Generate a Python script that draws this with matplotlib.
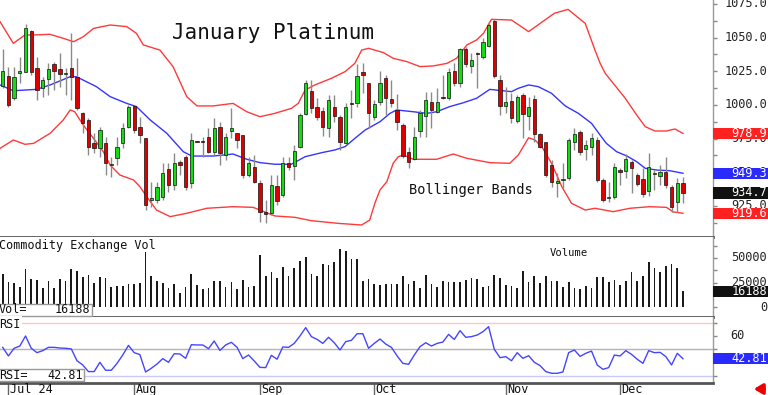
import numpy as np
import matplotlib
matplotlib.use("Agg")
import matplotlib.pyplot as plt
from matplotlib.patches import Rectangle
from matplotlib.transforms import blended_transform_factory, ScaledTranslation

# ---------------- data ----------------
opens = [1014.1, 1021.5, 1005.4, 1023.5, 1024.8, 1055.0, 1027.2, 1012.4, 1019.1, 1030.4,
         1026.7, 1023.0, 1027.2, 1021.0, 993.8, 988.9, 971.5, 967.8, 971.5, 955.4,
         960.4, 971.5, 983.9, 999.3, 983.9, 975.2, 929.4, 929.4, 931.9, 952.2,
         940.6, 957.9, 961.6, 941.8, 973.2, 972.8, 976.5, 965.3, 983.9, 962.9,
         980.7, 979.0, 977.7, 948.0, 954.2, 941.8, 920.8, 919.6, 939.9, 933.2,
         956.7, 955.0, 969.1, 993.1, 1010.4, 998.3, 995.8, 982.7, 998.3, 991.3,
         971.5, 1001.2, 1001.2, 1024.8, 1016.1, 991.3, 1002.5, 1019.8, 1004.5, 996.3,
         985.1, 965.3, 959.7, 980.9, 992.1, 1002.5, 995.0, 1005.7, 1005.0, 1025.5,
         1016.1, 1041.3, 1029.0, 1038.1, 1035.4, 1043.8, 1062.6, 1018.6, 999.3, 1003.0,
         988.4, 1007.4, 992.1, 1004.5, 978.2, 972.3, 955.4, 941.8, 944.1, 945.5,
         972.8, 979.7, 967.1, 969.1, 974.0, 944.3, 930.7, 931.9, 951.7, 951.2,
         957.9, 948.0, 945.0, 936.4, 949.0, 947.5, 950.0, 939.4, 927.7, 941.8]
highs = [1041.3, 1028.5, 1028.5, 1035.9, 1059.9, 1055.5, 1035.9, 1021.0, 1030.9, 1032.2,
         1038.4, 1027.2, 1053.7, 1034.7, 995.0, 990.1, 979.0, 983.9, 976.5, 961.6,
         976.5, 986.4, 1000.0, 999.3, 991.3, 975.2, 943.1, 943.1, 956.7, 956.7,
         964.1, 959.2, 962.9, 979.0, 973.6, 976.5, 982.7, 990.1, 987.6, 979.0,
         997.5, 979.5, 977.7, 961.6, 962.9, 944.3, 929.4, 948.0, 948.0, 961.6,
         961.6, 970.3, 993.8, 1018.6, 1018.6, 1005.0, 998.8, 1007.4, 1007.4, 992.6,
         1001.2, 1011.1, 1030.2, 1030.9, 1016.6, 1003.7, 1025.2, 1022.3, 1018.6, 1007.9,
         986.4, 969.1, 983.9, 996.3, 1009.9, 1009.9, 1012.4, 1022.3, 1027.2, 1030.9,
         1042.1, 1043.3, 1038.4, 1039.6, 1049.5, 1062.6, 1063.6, 1022.3, 1013.6, 1008.7,
         1007.4, 1008.7, 1006.2, 1007.4, 979.0, 972.8, 959.2, 949.3, 956.7, 975.2,
         982.7, 981.4, 974.0, 979.0, 976.5, 945.5, 943.1, 956.7, 953.0, 963.6,
         959.2, 949.3, 953.0, 964.6, 951.7, 955.4, 961.6, 940.6, 945.5, 946.3]
lows = [1012.4, 998.8, 1003.7, 1016.1, 1024.8, 1022.3, 1003.7, 1006.2, 1007.4, 1011.1,
        1013.6, 1007.4, 1003.7, 996.3, 979.0, 962.9, 964.1, 961.6, 948.0, 946.8,
        955.4, 967.8, 982.7, 979.0, 971.5, 922.0, 924.5, 927.0, 929.4, 935.6,
        937.0, 948.0, 937.0, 938.1, 972.4, 961.6, 964.1, 962.9, 955.4, 959.2,
        975.2, 967.8, 945.5, 946.8, 941.8, 913.4, 912.6, 918.3, 925.7, 931.9,
        951.7, 944.3, 967.8, 992.6, 993.8, 988.9, 977.0, 976.5, 987.6, 966.6,
        971.0, 990.1, 998.8, 1008.7, 982.7, 988.9, 1000.0, 992.6, 998.8, 981.4,
        960.4, 953.0, 959.2, 976.5, 976.5, 982.7, 993.8, 1004.5, 1003.7, 1014.1,
        1013.6, 1028.5, 1023.5, 1012.4, 1033.9, 1042.8, 1019.8, 992.6, 993.8, 986.4,
        986.9, 975.2, 981.4, 972.8, 967.8, 946.3, 939.4, 931.9, 938.1, 944.3,
        966.6, 962.9, 959.2, 962.9, 943.1, 928.2, 928.2, 929.9, 940.6, 945.5,
        934.4, 939.9, 931.9, 932.4, 936.9, 940.6, 938.1, 920.8, 920.3, 927.0]
closes = [1025.2, 1000.0, 1020.5, 1025.2, 1056.9, 1024.8, 1011.1, 1018.6, 1026.5, 1025.5,
          1023.0, 1024.0, 1021.0, 997.5, 986.4, 969.1, 967.8, 981.4, 956.7, 956.2,
          969.1, 982.7, 998.8, 981.4, 977.7, 925.7, 930.7, 939.4, 949.3, 940.6,
          956.7, 955.4, 939.4, 974.0, 972.8, 972.5, 965.3, 983.2, 964.1, 976.5,
          983.2, 974.0, 948.0, 956.7, 943.1, 920.8, 919.1, 940.6, 928.7, 956.7,
          954.2, 966.1, 992.6, 1016.6, 997.5, 991.3, 983.4, 1003.7, 991.8, 972.8,
          998.8, 1000.9, 1021.8, 1022.3, 993.8, 1000.7, 1016.6, 1005.4, 1001.2, 987.1,
          962.1, 957.4, 976.0, 993.8, 1003.7, 996.3, 1002.0, 1005.2, 1024.3, 1016.6,
          1041.3, 1030.2, 1033.4, 1037.6, 1046.5, 1059.4, 1021.5, 999.3, 1002.5, 990.1,
          1006.2, 993.1, 998.8, 978.2, 969.1, 948.0, 943.1, 943.6, 944.8, 974.0,
          978.2, 965.3, 970.3, 975.2, 944.3, 929.4, 931.9, 953.7, 950.0, 959.7,
          953.0, 941.3, 933.7, 953.7, 949.5, 950.5, 940.6, 924.0, 941.8, 934.7]

volumes = [33400, 26000, 25000, 21000, 38800, 28400, 27700, 19300, 27000, 20000,
           29000, 26700, 38500, 36500, 31000, 32400, 24300, 31000, 29400, 21000,
           22000, 22000, 23300, 23300, 24300, 56400, 31800, 26700, 25000, 20000,
           23600, 14900, 21000, 34100, 22600, 18600, 20000, 27000, 27000, 20600,
           25300, 18900, 27700, 20300, 22000, 53000, 31800, 35500, 30000, 40900,
           31800, 40200, 47000, 51300, 33800, 31800, 43600, 42900, 45600, 58800,
           57400, 48600, 48600, 27000, 28700, 23600, 22600, 23600, 23600, 23600,
           31800, 23600, 27000, 20000, 32800, 23300, 21000, 27000, 26000, 26000,
           25300, 27700, 29400, 28700, 21000, 22000, 32800, 30000, 22600, 22000,
           19300, 37200, 26000, 31800, 25000, 31800, 26700, 26700, 21000, 25300,
           19300, 18600, 21600, 20000, 30400, 30400, 25300, 27700, 22600, 27000,
           35800, 27000, 32100, 46300, 39500, 35500, 41900, 43900, 39500, 16188]

rsi = [51.4, 44.9, 50.7, 52.4, 60.0, 50.7, 47.4, 48.9, 51.4, 51.4,
       50.9, 50.7, 50.2, 41.3, 38.1, 33.1, 33.1, 40.1, 34.1, 34.1,
       39.3, 45.6, 52.9, 47.4, 45.9, 32.8, 35.6, 38.8, 42.9, 40.1,
       46.6, 46.4, 43.1, 53.4, 53.2, 53.2, 50.4, 56.2, 49.1, 53.2,
       55.2, 51.4, 42.9, 45.6, 41.1, 36.3, 36.1, 45.4, 42.4, 51.7,
       51.4, 54.4, 60.0, 66.3, 59.5, 57.4, 54.4, 59.0, 54.9, 49.4,
       55.7, 56.7, 61.7, 61.7, 50.7, 54.4, 57.7, 53.9, 51.4, 44.9,
       39.3, 38.6, 45.6, 51.9, 54.9, 52.4, 54.4, 55.4, 61.2, 57.4,
       64.0, 59.0, 59.5, 60.7, 63.2, 67.0, 49.9, 43.6, 44.4, 41.3,
       47.4, 43.1, 45.1, 40.1, 37.6, 33.1, 31.8, 31.8, 32.8, 47.4,
       49.4, 44.6, 46.9, 48.6, 38.1, 34.8, 36.1, 45.6, 44.9, 48.9,
       46.1, 42.4, 39.3, 48.9, 47.4, 47.6, 44.4, 38.1, 46.9, 42.81]

upper_idx = [-0.47, 1.86, 3.9, 5.36, 8.27, 10.6, 12.4, 14.1, 15.9, 18.8, 21.7, 23.4, 24.6,
             27.5, 29.8, 32.2, 34.0, 36.8, 40.3, 42.7, 45.0, 47.6, 50.5, 51.7, 52.9, 54.6,
             57.5, 59.9, 61.6, 62.8, 64.0, 66.6, 68.3, 70.7, 73.0, 75.3, 77.7, 79.4, 81.2,
             82.9, 84.1, 85.5, 89.0, 92.0, 96.5, 98.9, 101.9, 103.6, 104.5, 105.4, 106.8,
             108.9, 110.9, 112.4, 114.1, 116.1, 117.6, 119.0]
upper_val = [1061.9, 1045.8, 1052.0, 1052.0, 1052.5, 1049.5, 1047.0, 1050.7, 1056.9, 1059.4,
             1058.2, 1053.2, 1044.6, 1040.8, 1028.5, 1006.2, 999.3, 999.3, 1001.2, 995.0,
             991.3, 993.8, 997.5, 1001.2, 1011.1, 1014.9, 1019.8, 1024.8, 1030.9, 1040.8,
             1042.1, 1038.9, 1034.7, 1032.2, 1028.5, 1029.0, 1030.9, 1034.7, 1044.6, 1048.3,
             1053.2, 1063.6, 1063.1, 1054.5, 1068.1, 1071.0, 1060.6, 1040.8, 1031.0, 1023.5,
             1016.1, 1005.0, 992.6, 983.9, 980.7, 980.7, 982.2, 978.9]
mid_idx = [-0.47, 1.86, 5.9, 8.3, 11.8, 12.9, 16.4, 18.8, 21.7, 23.4, 25.8, 28.7, 31.6,
           33.1, 36.8, 40.3, 42.7, 45.0, 47.6, 50.5, 52.9, 55.8, 58.1, 59.9, 61.6, 63.4,
           66.0, 67.75, 68.9, 71.8, 74.2, 75.9, 78.2, 80.6, 82.9, 85.2, 89.0, 90.2, 92.0,
           93.7, 96.0, 98.4, 100.7, 103.0, 104.5, 105.6, 107.4, 109.2, 110.9, 112.4,
           114.4, 116.7, 119.0]
mid_val = [1014.9, 1010.6, 1011.6, 1014.9, 1021.0, 1021.0, 1013.6, 1006.2, 1001.2, 998.8,
           988.9, 979.0, 965.3, 962.1, 962.1, 963.6, 959.7, 957.2, 956.0, 956.0, 961.6,
           964.6, 966.6, 969.1, 975.2, 981.4, 987.6, 993.8, 996.3, 995.0, 993.8, 995.0,
           998.8, 1001.7, 1005.0, 1011.6, 1009.9, 1012.4, 1014.9, 1013.6, 1008.7, 999.3,
           993.8, 986.4, 977.7, 971.5, 965.3, 962.1, 957.9, 953.0, 951.7, 951.2, 949.3]
lower_idx = [-0.47, 1.86, 3.9, 5.4, 8.3, 10.6, 11.8, 12.6, 14.1, 15.9, 17.6, 18.8, 20.5,
             22.9, 24.0, 25.2, 26.9, 29.3, 32.2, 35.7, 40.3, 43.8, 45.0, 47.6, 51.1, 54.0,
             58.7, 62.8, 64.2, 65.1, 66.0, 67.2, 68.3, 69.2, 70.1, 71.8, 75.9, 78.8, 81.2,
             85.2, 88.7, 90.2, 92.0, 93.1, 94.3, 96.0, 97.8, 99.5, 101.9, 103.6, 106.8,
             109.7, 113.2, 116.1, 117.3, 119.0]
lower_val = [967.8, 974.0, 970.8, 971.5, 979.0, 988.9, 996.3, 995.0, 985.1, 975.2, 965.3,
             955.4, 948.0, 944.3, 939.4, 931.9, 922.0, 917.1, 919.6, 923.3, 924.5, 924.0,
             922.0, 917.6, 916.6, 914.1, 912.1, 910.9, 914.6, 927.0, 936.9, 943.1, 956.7,
             961.6, 962.9, 959.7, 959.7, 963.6, 960.4, 957.2, 956.7, 962.9, 975.7, 974.0,
             969.1, 956.7, 939.4, 927.0, 922.0, 923.3, 920.8, 923.3, 924.5, 924.0, 920.6,
             919.6]

month_idx = [1, 23, 45, 65, 88, 108]
month_labels = ["Jul 24", "Aug", "Sep", "Oct", "Nov", "Dec"]
price_ticks = [925, 950, 975, 1000, 1025, 1050, 1075]
vol_ticks = [0, 25000, 50000]
rsi_ticks = [60]
rsi_levels = [70, 50, 30]

# ---------------- layout ----------------
W, H = 768, 395
MONO = "DejaVu Sans Mono"
fig = plt.figure(figsize=(W / 100, H / 100), dpi=100)
fig.patch.set_facecolor("white")


def fy(py):
    return 1 - py / H


RIGHT = 713
ax1 = fig.add_axes([0, fy(236.5), RIGHT / W, 236.5 / H])
ax2 = fig.add_axes([0, fy(317.3), RIGHT / W, (317.3 - 236.5) / H])
ax3 = fig.add_axes([0, fy(382.7), RIGHT / W, (382.7 - 317.3) / H])

xlim = (-0.47, 124.25)
for ax in (ax1, ax2, ax3):
    ax.set_xlim(*xlim)
    ax.set_facecolor("white")
    ax.spines["top"].set_visible(False)
    ax.spines["left"].set_visible(False)
    ax.spines["right"].set_color("#999999")
    ax.spines["right"].set_linewidth(1)
    ax.spines["bottom"].set_color("#555555")
    ax.spines["bottom"].set_linewidth(2)
    ax.yaxis.set_ticks_position("right")
    ax.tick_params(axis="y", which="both", direction="out", length=3, width=1,
                   color="#888888", labelright=False, labelleft=False)
ax1.set_xticks([])
ax2.set_xticks([])

ax1.set_ylim(902.35, 1077.97)
ax2.set_ylim(-10136, 71763)
ax3.set_ylim(24.7, 74.1)

ax1.set_yticks(price_ticks)
ax1.set_yticks(np.arange(912.5, 1077, 12.5), minor=True)
ax2.set_yticks(vol_ticks)
ax2.set_yticks([12500, 37500, 62500], minor=True)
ax3.set_yticks([30, 40, 50, 60, 70])

# ---------------- price panel ----------------
x = np.arange(len(closes))
GREEN, RED = "#11dd11", "#dd0000"
ax1.plot(upper_idx, upper_val, color="#ff3a3a", lw=1, zorder=1)
ax1.plot(lower_idx, lower_val, color="#ff3a3a", lw=1, zorder=1)
ax1.plot(mid_idx, mid_val, color="#3535ff", lw=1, zorder=1)
for i, (o, h, l, c) in enumerate(zip(opens, highs, lows, closes)):
    ax1.vlines(i, l, h, color="#8a8a8a", lw=1, zorder=2)
    up = c >= o
    bottom = min(o, c)
    height = max(abs(c - o), 0.7)
    ax1.add_patch(Rectangle((i - 0.29, bottom), 0.58, height,
                            facecolor=GREEN if up else RED,
                            edgecolor="#111111", lw=0.5, zorder=3))

fig.text(172 / W, fy(39.3), "January Platinum", family=MONO, fontsize=15,
         ha="left", va="baseline", color="#111111")
fig.text(409 / W, fy(194.3), "Bollinger Bands", family=MONO, fontsize=9.8,
         ha="left", va="baseline", color="#111111")

# ---------------- volume panel ----------------
ax2.bar(x, volumes, width=0.3, color="#1a1a1a", zorder=2)
fig.text(-1 / W, fy(248.5), "Commodity Exchange Vol", family=MONO, fontsize=8.5,
         ha="left", va="baseline", color="#111111")
fig.text(550 / W, fy(256.5), "Volume", family=MONO, fontsize=7.6,
         ha="left", va="baseline", color="#111111")
fig.add_artist(Rectangle((-0.01, fy(315.7)), 92 / W + 0.01, 11.7 / H,
                         transform=fig.transFigure, facecolor="white",
                         edgecolor="#999999", lw=1, zorder=2))
fig.text(-1 / W, fy(313.3), "Vol=", family=MONO, fontsize=8.5,
         ha="left", va="baseline", color="#111111", zorder=3)
fig.text(90 / W, fy(313.3), f"{volumes[-1]}", family=MONO, fontsize=8.5,
         ha="right", va="baseline", color="#111111", zorder=3)

# ---------------- RSI panel ----------------
ax3.axhline(rsi_levels[0], color="#ffc4c4", lw=1, zorder=1)
ax3.axhline(rsi_levels[1], color="#b4b4b4", lw=1, zorder=1)
ax3.axhline(rsi_levels[2], color="#c8c8ff", lw=1, zorder=1)
ax3.plot(x, rsi, color="#4545ff", lw=1, zorder=2)
fig.text(-1 / W, fy(327.7), "RSI", family=MONO, fontsize=8.5, ha="left",
         va="baseline", color="#111111", zorder=3,
         bbox=dict(facecolor="white", edgecolor="none", pad=1.0))
fig.add_artist(Rectangle((-0.01, fy(380.7)), 84 / W + 0.01, 11.4 / H,
                         transform=fig.transFigure, facecolor="white",
                         edgecolor="#999999", lw=1, zorder=2))
fig.text(-1 / W, fy(378.8), "RSI=", family=MONO, fontsize=8.5,
         ha="left", va="baseline", color="#111111", zorder=3)
fig.text(83 / W, fy(378.8), f"{rsi[-1]:.2f}", family=MONO, fontsize=8.5,
         ha="right", va="baseline", color="#111111", zorder=3)

# x axis: month ticks and labels
ax3.set_xticks(month_idx)
ax3.tick_params(axis="x", direction="out", length=12.5, width=1, color="#666666",
                labelbottom=False)
tr = blended_transform_factory(ax3.transData, fig.transFigure) + \
    ScaledTranslation(1.5 / 100, 0, fig.dpi_scale_trans)
for mi, ml in zip(month_idx, month_labels):
    ax3.text(mi, fy(393.3), ml, transform=tr, family=MONO, fontsize=8.5,
             ha="left", va="baseline", color="#111111", clip_on=False)

# ---------------- right-hand labels ----------------
LAB_X = 767 / RIGHT


def right_label(ax, y, s, color="#222222"):
    t = blended_transform_factory(ax.transAxes, ax.transData)
    ax.text(LAB_X, y, s, transform=t, ha="right", va="center", family=MONO,
            fontsize=8.6, color=color, clip_on=False, zorder=5)


def right_box(ax, y, s, face, px_h=11.5):
    lo, hi = ax.get_ylim()
    ax_h = ax.get_position().height * H
    h = px_h * (hi - lo) / ax_h
    t = blended_transform_factory(ax.transAxes, ax.transData)
    ax.add_patch(Rectangle((1.0, y - h / 2), (W - RIGHT) / RIGHT, h, transform=t,
                           facecolor=face, edgecolor="none", clip_on=False, zorder=6))
    ax.text(LAB_X, y, s, transform=t, ha="right", va="center", family=MONO,
            fontsize=8.6, color="white", clip_on=False, zorder=7)


for p in price_ticks:
    right_label(ax1, p, f"{p:.1f}")
right_box(ax1, upper_val[-1], f"{upper_val[-1]:.1f}", "#ff2020")
right_box(ax1, mid_val[-1], f"{mid_val[-1]:.1f}", "#2a2aff")
right_box(ax1, closes[-1], f"{closes[-1]:.1f}", "#111111")
right_box(ax1, lower_val[-1], f"{lower_val[-1]:.1f}", "#ff2020")

for v in vol_ticks:
    right_label(ax2, v, f"{v}")
right_box(ax2, volumes[-1], f"{volumes[-1]}", "#111111", px_h=11)

tr60 = blended_transform_factory(ax3.transAxes, ax3.transData)
for r in rsi_ticks:
    ax3.text(730 / RIGHT, r, f"{r}", transform=tr60, ha="left", va="center",
             family=MONO, fontsize=8.6, color="#222222", clip_on=False)
right_box(ax3, rsi[-1], f"{rsi[-1]:.2f}", "#2a2aff", px_h=10.6)

# red arrow bottom right
ax3.annotate("", xy=(751, 6), xycoords="figure pixels", xytext=(767, 6),
             textcoords="figure pixels",
             arrowprops=dict(arrowstyle="-|>,head_width=0.3,head_length=0.5",
                             color="#ee0000", lw=2.5))

fig.savefig("out.png", dpi=100, facecolor="white")
